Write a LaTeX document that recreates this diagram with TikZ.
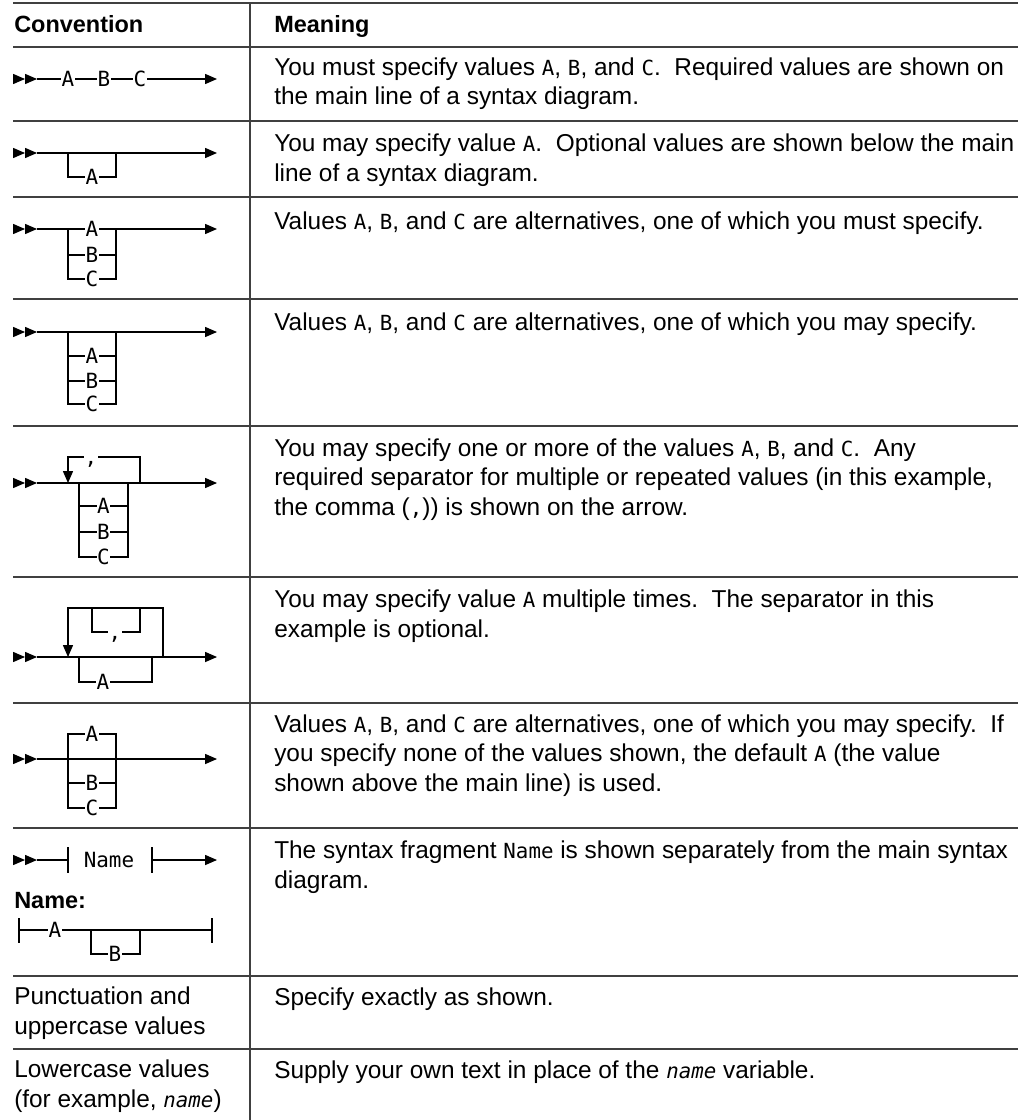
\documentclass[tikz,border=0pt]{standalone}
\usepackage{fontspec}
\setmainfont{Liberation Sans}
\newfontfamily\synfont{DejaVu Sans Mono}
\usetikzlibrary{arrows.meta}

\tikzset{
  tblrule/.style={line width=1.3pt, black!75},
  synline/.style={line width=0.8pt},
  tok/.style={fill=white, inner xsep=0.3pt, inner ysep=0pt, text height=11.4pt,
    text depth=0pt, font=\synfont\fontsize{15.7}{15.7}\selectfont},
  sep/.style={tok, minimum width=9pt},
  body/.style={anchor=base west, inner sep=0pt, align=left,
    font=\fontsize{18.3}{21.8}\selectfont},
  head/.style={anchor=base west, inner sep=0pt, font=\bfseries\fontsize{17.6}{21}\selectfont},
  tip/.style={-{Triangle[length=9pt,width=7.6pt]}},
}
% values in running text
\newcommand{\vv}[1]{{\synfont\fontsize{15.6}{15.6}\selectfont #1}}
\newcommand{\dblhead}[1]{\fill (13,#1-5.2) -- (25,#1) -- (13,#1+5.2) -- cycle
  (25,#1-5.2) -- (37,#1) -- (25,#1+5.2) -- cycle;}

\begin{document}
\frenchspacing
\begin{tikzpicture}[x=0.75pt, y=-0.75pt]
\useasboundingbox (0,0) rectangle (1031,1120);

% table rules
\foreach \ry in {3,47,121,197,299,426,577,703,828,976,1049}
  \draw[tblrule] (13,\ry) -- (1018,\ry);
\draw[tblrule] (250,3) -- (250,1120);

\node[head] (hconv) at (14,33) {Convention};
\node[head] (hmean) at (274,33) {Meaning};

% row 1: required
\dblhead{79}
\draw[synline,tip] (37,79) -- (217,79);
\node[tok] (r1a) at (68,79) {A};
\node[tok] (r1b) at (104,79) {B};
\node[tok] (r1c) at (140,79) {C};

% row 2: optional
\dblhead{153}
\draw[synline,tip] (37,153) -- (217,153);
\draw[synline] (68,153) -- (68,177) -- (116,177) -- (116,153);
\node[tok] (r2a) at (92,177) {A};

% row 3: required choice
\dblhead{229}
\draw[synline,tip] (37,229) -- (217,229);
\draw[synline] (68,229) -- (68,279) -- (116,279) -- (116,229);
\draw[synline] (68,255) -- (116,255);
\node[tok] (r3a) at (92,229) {A};
\node[tok] (r3b) at (92,255) {B};
\node[tok] (r3c) at (92,279) {C};

% row 4: optional choice
\dblhead{332}
\draw[synline,tip] (37,332) -- (217,332);
\draw[synline] (68,332) -- (68,404) -- (116,404) -- (116,332);
\draw[synline] (68,356) -- (116,356);
\draw[synline] (68,381) -- (116,381);
\node[tok] (r4a) at (92,356) {A};
\node[tok] (r4b) at (92,381) {B};
\node[tok] (r4c) at (92,404) {C};

% row 5: repeat with separator
\dblhead{483}
\draw[synline,tip] (37,483) -- (217,483);
\draw[synline,tip] (140,483) -- (140,457) -- (68,457) -- (68,483);
\node[sep] (r5sep) at (91,457) {,};
\draw[synline] (79,483) -- (79,557) -- (128,557) -- (128,483);
\draw[synline] (79,506) -- (128,506);
\draw[synline] (79,532) -- (128,532);
\node[tok] (r5a) at (103.5,506) {A};
\node[tok] (r5b) at (103.5,532) {B};
\node[tok] (r5c) at (103.5,557) {C};

% row 6: optional repeat
\dblhead{657}
\draw[synline,tip] (37,657) -- (217,657);
\draw[synline,tip] (163,657) -- (163,608) -- (68,608) -- (68,657);
\draw[synline] (92,608) -- (92,632) -- (140,632) -- (140,608);
\node[sep] (r6sep) at (115,632) {,};
\draw[synline] (79,657) -- (79,682) -- (152,682) -- (152,657);
\node[tok] (r6a) at (103,682) {A};

% row 7: default
\dblhead{759}
\draw[synline,tip] (37,759) -- (217,759);
\draw[synline] (68,734) -- (68,808) -- (116,808) -- (116,734) -- cycle;
\draw[synline] (68,783) -- (116,783);
\node[tok] (r7a) at (92,734) {A};
\node[tok] (r7b) at (92,783) {B};
\node[tok] (r7c) at (92,808) {C};

% row 8: fragment
\dblhead{860}
\draw[synline] (37,860) -- (68,860);
\draw[synline] (68,847) -- (68,873);
\node[tok, fill=none] (r8name) at (109,860) {Name};
\draw[synline] (152,847) -- (152,873);
\draw[synline,tip] (152,860) -- (217,860);
\node[head] (r8frag) at (14,908) {Name:};
\draw[synline] (19,918) -- (19,943);
\draw[synline] (212,918) -- (212,943);
\draw[synline] (19,930) -- (212,930);
\draw[synline] (91,930) -- (91,954) -- (140,954) -- (140,930);
\node[tok] (r8a) at (55,930) {A};
\node[tok] (r8b) at (115,954) {B};

% left column text (base = last line)
\node[body] (c9) at (14,1034) {Punctuation and\\uppercase values};
\node[body] (c10) at (14,1107) {Lowercase values\\(for example, {\synfont\itshape\fontsize{15.6}{15.6}\selectfont name})};

% meanings
\node[body] (m1) at (274,105) {You must specify values \vv{A}, \vv{B}, and \vv{C}.\ \ Required values are shown on\\the main line of a syntax diagram.};
\node[body] (m2) at (274,181) {You may specify value \vv{A}.\ \ Optional values are shown below the main\\line of a syntax diagram.};
\node[body] (m3) at (274,229) {Values \vv{A}, \vv{B}, and \vv{C} are alternatives, one of which you must specify.};
\node[body] (m4) at (274,330) {Values \vv{A}, \vv{B}, and \vv{C} are alternatives, one of which you may specify.};
\node[body] (m5) at (274,515) {You may specify one or more of the values \vv{A}, \vv{B}, and \vv{C}.\ \ Any\\required separator for multiple or repeated values (in this example,\\the comma (\vv{,})) is shown on the arrow.};
\node[body] (m6) at (274,637) {You may specify value \vv{A} multiple times.\ \ The separator in this\\example is optional.};
\node[body] (m7) at (274,791) {Values \vv{A}, \vv{B}, and \vv{C} are alternatives, one of which you may specify.\ \ If\\you specify none of the values shown, the default \vv{A} (the value\\shown above the main line) is used.};
\node[body] (m8) at (274,888) {The syntax fragment \vv{Name} is shown separately from the main syntax\\diagram.};
\node[body] (m9) at (274,1005) {Specify exactly as shown.};
\node[body] (m10) at (274,1078) {Supply your own text in place of the {\synfont\itshape\fontsize{15.6}{15.6}\selectfont name} variable.};

\end{tikzpicture}
\end{document}
